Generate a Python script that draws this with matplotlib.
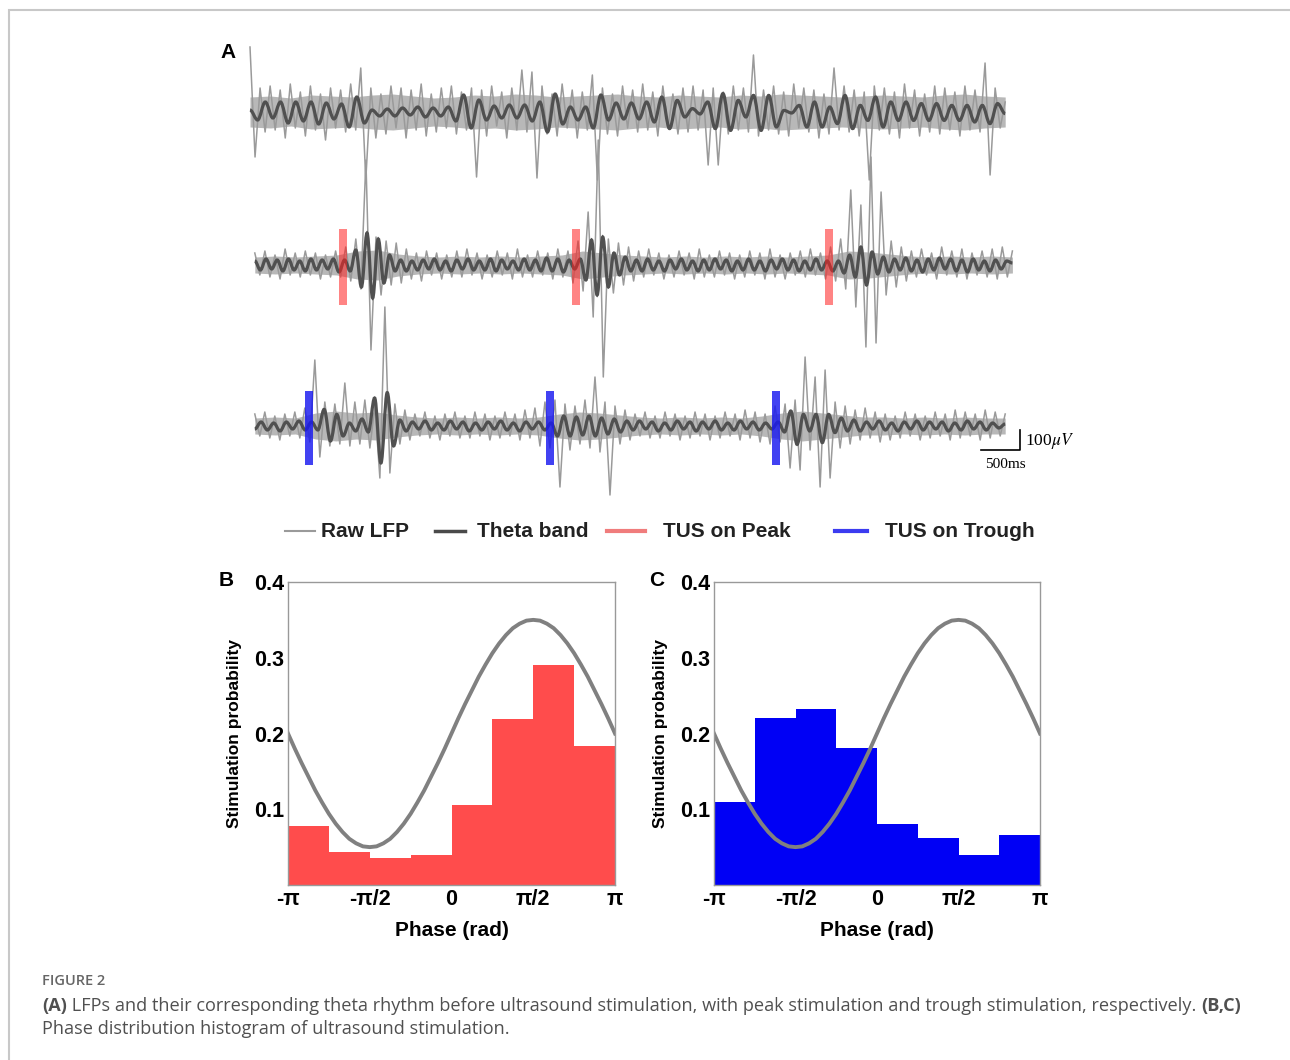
import numpy as np
import matplotlib.pyplot as plt
from matplotlib.lines import Line2D
from matplotlib.patches import Rectangle, PathPatch
from matplotlib.path import Path

plt.rcParams['mathtext.fontset'] = 'stix'

W, H = 1290, 1060

# ---- panel A : LFP traces, uV relative to each trace baseline
# raw LFP excursions (alternating up / down) incl. the large spikes
raw_pre = [325, -225, 120, -100, 130, -90, 110, -130, 140, -80,
           100, -120, 130, -90, 90, -140, 120, -80, 110, -100,
           140, -90, 220, -340, 120, -130, 90, -110, 130, -80,
           120, -130, 110, -90, 140, -120, 90, -100, 120, -80,
           130, -110, 100, -90, 120, -325, 110, -120, 130, -70,
           100, -130, 120, -90, 210, -100, 200, -330, 130, -110,
           90, -120, 140, -80, 110, -130, 100, -90, 185, -340,
           120, -110, 90, -120, 130, -80, 110, -100, 140, -90,
           100, -120, 130, -80, 90, -110, 120, -100, 130, -90,
           110, -265, 120, -265, 100, -110, 130, -90, 120, -100,
           285, -120, 110, -90, 130, -110, 100, -120, 140, -80,
           120, -100, 110, -130, 90, -110, 220, -90, 130, -100,
           110, -120, 100, -340, 130, -90, 120, -110, 100, -130,
           140, -80, 110, -120, 90, -100, 130, -110, 120, -90,
           100, -120, 130, -90, 110, -100, 245, -315, 120, -80,
           50]
# half width of the dense raw band
band_pre = [75, 80, 70, 85, 80, 75, 85, 90, 80, 70, 75, 85, 80, 90, 85, 75, 80, 85, 90,
            80, 75, 85, 80, 75, 85, 80, 90, 85, 80, 75, 80, 85, 80, 75, 85, 90, 80, 75]
# theta band extrema
theta_pre = [10, -40, 50, -30, 50, -55, 50, -45, 50, -60,
             45, -35, 40, -75, 75, -55, 10, -20, 15, -20,
             20, -15, 25, -25, 20, -20, 25, -45, 85, -80,
             60, -40, 30, -30, 35, -30, 35, -45, 50, -100,
             90, -60, 25, -40, 25, -80, 85, -40, 45, -35,
             45, -35, 50, -50, 75, -83, 58, -25, 17, -10,
             50, -83, 92, -92, 58, -25, 83, -92, 83, -75,
             8, -5, 33, -75, 50, -75, 25, -58, 83, -83,
             33, -42, 75, -75, 50, -42, 50, -42, 42, -42,
             42, -42, 33, -42, 33, -50, 33, -58, 42, -8]

raw_peak = [60, -50, 70, -60, 50, -70, 80, -50, 60, -60,
            70, -50, 60, -70, 50, -60, 70, -60, 90, -80,
            130, -120, 525, -425, 140, -150, 120, -100, 110, -90,
            80, -70, 60, -80, 70, -50, 60, -70, 50, -60,
            70, -60, 80, -50, 60, -70, 50, -60, 70, -50,
            60, -70, 80, -60, 50, -60, 70, -50, 60, -70,
            80, -60, 70, -90, 120, -130, 265, -260, 625, -560,
            130, -140, 110, -100, 90, -80, 70, -60, 80, -50,
            60, -70, 50, -60, 70, -50, 60, -70, 80, -60,
            50, -60, 70, -50, 60, -70, 50, -60, 70, -50,
            60, -70, 80, -60, 50, -70, 60, -50, 70, -60,
            80, -50, 60, -70, 90, -80, 130, -120, 375, -210,
            300, -410, 540, -390, 365, -150, 120, -110, 90, -80,
            70, -60, 80, -50, 60, -70, 90, -50, 70, -60,
            80, -70, 60, -50, 70, -60, 80, -70, 90, -60,
            70]
band_peak = [40, 45, 40, 45, 50, 70, 75, 55, 45, 40, 45, 40, 45, 40, 45, 50, 70, 60, 50,
             45, 40, 45, 40, 45, 40, 45, 40, 45, 50, 70, 65, 55, 45, 40, 45, 40, 45, 40]
theta_peak = [20, -25, 30, -20, 25, -30, 30, -25, 20, -30,
              30, -25, 25, -20, 30, -35, 25, -30, 75, -110,
              160, -165, 130, -90, 50, -30, 25, -30, 20, -25,
              25, -20, 30, -25, 20, -30, 25, -20, 30, -25,
              20, -25, 30, -30, 25, -20, 20, -25, 30, -25,
              25, -30, 35, -30, 30, -35, 25, -20, 30, -75,
              125, -150, 140, -110, 60, -50, 40, -30, 25, -30,
              30, -25, 20, -30, 25, -20, 30, -25, 20, -30,
              25, -25, 30, -20, 25, -30, 20, -25, 30, -25,
              20, -30, 25, -20, 30, -25, 25, -30, 20, -25,
              30, -25, 20, -30, 20, -40, 50, -60, 90, -100,
              65, -45, 40, -35, 30, -25, 35, -30, 25, -35,
              30, -25, 35, -20, 30, -30, 25, -35, 30, -25,
              20, -30, 25, -20, 20, 10]

raw_trough = [60, -50, 70, -60, 50, -70, 60, -50, 70, -60,
              90, -80, 330, -155, 120, -100, 110, -90, 215, -100,
              120, -90, 130, -110, 100, -260, 595, -235, 110, -90,
              80, -70, 60, -50, 70, -60, 50, -70, 60, -50,
              70, -60, 50, -60, 70, -50, 60, -70, 50, -60,
              70, -50, 60, -70, 80, -60, 90, -100, 120, -110,
              130, -305, 110, -120, 100, -90, 130, -110, 245, -130,
              120, -345, 100, -90, 80, -70, 60, -50, 70, -60,
              50, -60, 70, -50, 60, -70, 50, -60, 70, -50,
              60, -70, 50, -60, 70, -50, 60, -70, 80, -60,
              70, -80, 60, -90, 100, -80, 110, -210, 130, -220,
              345, -120, 245, -305, 280, -260, 120, -110, 100, -90,
              80, -70, 90, -60, 70, -80, 60, -70, 50, -60,
              70, -50, 60, -70, 50, -60, 70, -50, 60, -70,
              80, -60, 70, -50, 60, -70, 80, -60, 70, -50,
              60]
band_trough = [40, 45, 40, 65, 75, 65, 70, 55, 45, 40, 45, 40, 45, 40, 45, 60, 70, 65, 55,
               45, 40, 45, 40, 45, 40, 50, 65, 75, 65, 55, 45, 45, 40, 45, 40, 45, 40, 40]
theta_trough = [-15, 20, -20, 15, -25, 20, -15, 25, -20, 20,
                -20, 83, -75, 58, -50, 15, -25, 35, -30, 140,
                -185, 167, -100, 30, -25, 20, -15, 25, -20, 15,
                -20, 25, -15, 20, -25, 15, -20, 20, -15, 25,
                -20, 15, -25, 20, -15, 20, -20, 15, -50, 50,
                -50, 45, -45, 50, -50, 40, -40, 35, -30, 25,
                -20, 25, -15, 20, -25, 15, -20, 25, -15, 20,
                -25, 20, -15, 25, -20, 15, -20, 25, -15, 20,
                -20, 15, -15, 20, -30, 75, -92, 58, -25, 58,
                -83, 58, -33, 40, -25, 30, -25, 20, -15, 25,
                -20, 15, -25, 20, -15, 25, -20, 20, -15, 20,
                -25, 15, -20, 25, -15, 20, -20, 15, -10, 10]

# time span of each trace (s) and vertical offset (uV)
span_pre = (0.0, 9.44)
span_peak = (0.06, 9.53)
span_trough = (0.06, 9.44)
offsets = [1940, 1175, 370]

# ultrasound onsets (s)
stim_peak = [1.16, 4.08, 7.24]
stim_trough = [0.74, 3.75, 6.57]

# ---- panels B, C : phase histograms
phase_edges = [-np.pi, -3*np.pi/4, -np.pi/2, -np.pi/4, 0, np.pi/4, np.pi/2, 3*np.pi/4, np.pi]
prob_peak = [0.078, 0.043, 0.035, 0.040, 0.106, 0.219, 0.290, 0.184]
prob_trough = [0.109, 0.221, 0.233, 0.181, 0.081, 0.062, 0.040, 0.066]
ref_wave = [0.200, 0.180, 0.161, 0.143, 0.125, 0.109, 0.094, 0.081, 0.070, 0.061, 0.055, 0.051,
            0.050, 0.051, 0.055, 0.061, 0.070, 0.081, 0.094, 0.109, 0.125, 0.143, 0.161, 0.180,
            0.200, 0.220, 0.239, 0.257, 0.275, 0.291, 0.306, 0.319, 0.330, 0.339, 0.345, 0.349,
            0.350, 0.349, 0.345, 0.339, 0.330, 0.319, 0.306, 0.291, 0.275, 0.257, 0.239, 0.220,
            0.200]
phase_ticks = [-np.pi, -np.pi/2, 0, np.pi/2, np.pi]
phase_labels = ['-π', '-π/2', '0', 'π/2', 'π']
prob_ticks = [0.1, 0.2, 0.3, 0.4]


def box(x0, y0, x1, y1):
    return [x0 / W, 1 - y1 / H, (x1 - x0) / W, (y1 - y0) / H]


def smooth_wave(x, y, **kw):
    # bezier segments between successive extrema, flat at each extremum
    verts = [(x[0], y[0])]
    codes = [Path.MOVETO]
    for i in range(1, len(x)):
        d = x[i] - x[i - 1]
        verts += [(x[i - 1] + 0.36 * d, y[i - 1]), (x[i] - 0.36 * d, y[i]), (x[i], y[i])]
        codes += [Path.CURVE4] * 3
    return PathPatch(Path(verts, codes), fill=False, **kw)


fig = plt.figure(figsize=(W / 100, H / 100), dpi=100)

# light frame around the figure
fig.add_artist(Rectangle((9 / W, -0.1), 1.2, 1.1 - 10.5 / H, transform=fig.transFigure,
                         fill=False, edgecolor='#c8c8c8', lw=1.5))

# ---- panel A
ax = fig.add_axes(box(240, 40, 1090, 500))
for (raw, band, theta, (t0, t1)), off in zip([(raw_pre, band_pre, theta_pre, span_pre),
                                              (raw_peak, band_peak, theta_peak, span_peak),
                                              (raw_trough, band_trough, theta_trough, span_trough)],
                                             offsets):
    tb = np.linspace(t0, t1, len(band))
    ax.fill_between(tb, off - np.array(band), off + np.array(band), color='#b8b8b8', lw=0)
    ax.plot(np.linspace(t0, t1, len(raw)), np.array(raw) + off, color='#9a9a9a', lw=1.1)
    ax.add_patch(smooth_wave(np.linspace(t0, t1, len(theta)), np.array(theta) + off,
                             edgecolor='#505050', lw=2.3, zorder=2.5))

ax.bar(stim_peak, 380, bottom=offsets[1] - 200, width=0.1, color='#ff2020', alpha=0.55,
       lw=0, zorder=3)
ax.bar(stim_trough, 370, bottom=offsets[2] - 195, width=0.1, color='#1818f0', alpha=0.82,
       lw=0, zorder=3)

# scale bar
ax.plot([9.14, 9.625, 9.625], [250, 250, 350], color='black', lw=1.2)
ax.text(9.69, 295, '100$\\mu V$', fontsize=12.5, family='Liberation Serif', va='center')
ax.text(9.44, 175, '500ms', fontsize=11, family='Liberation Serif', ha='center', va='center')
ax.set_xlim(-0.125, 10.5)
ax.set_ylim(0, 2300)
ax.axis('off')

# legend row
legend_items = [('Raw LFP', '#9a9a9a', 1.5, 285, 315, 321),
                ('Theta band', '#4a4a4a', 2.5, 435, 465, 477),
                ('TUS on Peak', '#f07c7c', 3.0, 607, 645, 663),
                ('TUS on Trough', '#3c3cf0', 3.0, 835, 867, 885)]
for label, col, lw, hx0, hx1, tx in legend_items:
    fig.add_artist(Line2D([hx0 / W, hx1 / W], [1 - 531 / H] * 2, color=col, lw=lw,
                          transform=fig.transFigure))
    fig.text(tx / W, 1 - 531 / H, label, fontsize=15, weight='bold', family='Liberation Sans',
             color='#222222', va='center')

# ---- panels B, C
for (x0, x1), probs, col in [((288, 615), prob_peak, '#ff4c4c'),
                             ((714, 1040), prob_trough, '#0000f5')]:
    axh = fig.add_axes(box(x0, 582, x1, 885))
    axh.bar(phase_edges[:-1], probs, width=np.diff(phase_edges), align='edge', color=col,
            lw=0, zorder=1)
    axh.plot(np.linspace(-np.pi, np.pi, len(ref_wave)), ref_wave, color='#808080', lw=2.8,
             zorder=2)
    axh.set_xlim(-np.pi, np.pi)
    axh.set_ylim(0, 0.4)
    axh.set_xticks(phase_ticks)
    axh.set_xticklabels(phase_labels)
    axh.set_yticks(prob_ticks)
    axh.set_yticklabels(['%.1f' % v for v in prob_ticks])
    axh.tick_params(length=0, labelsize=15.5, pad=3)
    for lab in axh.get_xticklabels() + axh.get_yticklabels():
        lab.set_fontweight('bold')
        lab.set_family('Liberation Sans')
    for sp in axh.spines.values():
        sp.set_color('#999999')
        sp.set_linewidth(1)
    axh.set_xlabel('Phase (rad)', fontsize=15, weight='bold', family='Liberation Sans')
    axh.set_ylabel('Stimulation probability', fontsize=12.5, weight='bold',
                   family='Liberation Sans')
    axh.xaxis.set_label_coords(0.5, -0.12)
    axh.yaxis.set_label_coords(-0.141, 0.5)

for lab, px, py in [('A', 228, 52), ('B', 226, 580), ('C', 657, 580)]:
    fig.text(px / W, 1 - py / H, lab, fontsize=15, weight='bold', family='Liberation Sans',
             ha='center', va='center')

# ---- caption
fig.text(42 / W, 1 - 981 / H, 'FIGURE 2', fontsize=10.5, color='#666666', family='Open Sans',
         weight='semibold', va='center')
renderer = fig.canvas.get_renderer()


def caption_line(y, parts):
    x = 42
    for txt, bold in parts:
        t = fig.text(x / W, 1 - y / H, txt, fontsize=13.1, color='#505050', family='Open Sans',
                     weight='bold' if bold else 'normal', va='center')
        x += t.get_window_extent(renderer=renderer).width


caption_line(1006, [('(A)', True),
                    (' LFPs and their corresponding theta rhythm before ultrasound stimulation, '
                     'with peak stimulation and trough stimulation, respectively. ', False),
                    ('(B,C)', True)])
caption_line(1029, [('Phase distribution histogram of ultrasound stimulation.', False)])

fig.savefig('out.png', dpi=100)
